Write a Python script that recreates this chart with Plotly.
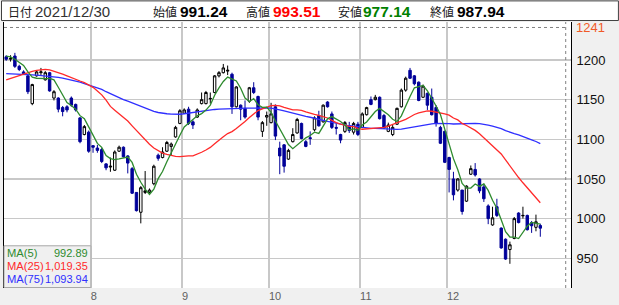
import plotly.graph_objects as go
import pandas as pd

# ---------------- data ----------------
month_labels = ["8", "9", "10", "11", "12"]
month_first_index = [20, 41, 61, 82, 102]

opens = [1204, 1201, 1205, 1192, 1185, 1180, 1145, 1180, 1184, 1175,
         1184, 1152, 1152, 1140, 1141, 1152, 1144, 1127, 1106, 1109,
         1092, 1089, 1087, 1069, 1065, 1061, 1085, 1090, 1079, 1063,
         1033, 1008, 1033, 1033, 1044, 1080, 1077, 1085, 1091, 1103,
         1120, 1133, 1138, 1122, 1128, 1145, 1145, 1151, 1159, 1180,
         1184, 1186, 1182, 1141, 1143, 1139, 1148, 1165, 1154, 1110,
         1128, 1121, 1141, 1089, 1093, 1075, 1097, 1108, 1120, 1097,
         1102, 1112, 1130, 1122, 1147, 1132, 1115, 1106, 1110, 1117,
         1109, 1119, 1115, 1131, 1150, 1150, 1153, 1130, 1110, 1106,
         1119, 1141, 1162, 1187, 1180, 1172, 1153, 1158, 1153, 1140,
         1115, 1110, 1077, 1050, 1036, 1036, 1022, 1056, 1062, 1050,
         1040, 1016, 992, 1015, 988, 974, 961, 975, 1007, 1003.5,
         1004, 995, 989, 991.24]
highs = [1206, 1206, 1209, 1194, 1187, 1181, 1170, 1187, 1190, 1186,
         1185, 1162, 1153, 1142, 1143, 1154, 1145, 1128, 1118, 1111,
         1092, 1093, 1089, 1070, 1077, 1086, 1092, 1091, 1080, 1065,
         1033, 1041, 1060, 1038, 1068, 1082, 1090, 1098, 1096, 1117,
         1138, 1139, 1141, 1124, 1139, 1159, 1161, 1159, 1181, 1186,
         1195, 1193, 1184, 1167, 1144, 1149, 1166, 1172, 1155, 1123,
         1135, 1146, 1144, 1097, 1094, 1088, 1114, 1127, 1121, 1099,
         1110, 1129, 1136, 1144, 1148, 1135, 1120, 1107, 1123, 1122,
         1122, 1122, 1134, 1141, 1154, 1156, 1154, 1132, 1121, 1118,
         1140, 1164, 1179, 1190, 1181, 1173, 1169, 1159, 1164, 1143,
         1117, 1111, 1078, 1059, 1051, 1036, 1042, 1067, 1070, 1051,
         1044, 1018, 1015, 1025, 989, 975, 971, 1002, 1008, 1015,
         1005, 997, 1005, 993.51]
lows = [1199, 1198, 1190, 1186, 1181, 1157, 1143, 1179, 1181, 1174,
        1160, 1149, 1134, 1129, 1134, 1141, 1135, 1095, 1105, 1083,
        1083, 1083, 1070, 1061, 1059, 1060, 1084, 1077, 1057, 1031,
        1009, 994, 1031, 1030, 1042, 1073, 1076, 1084, 1079, 1102,
        1119, 1132, 1118, 1113, 1127, 1144, 1144, 1145, 1158, 1178,
        1183, 1181, 1132, 1140, 1124, 1126, 1146, 1157, 1124, 1103,
        1117, 1120, 1099, 1056, 1058, 1074, 1096, 1107, 1100, 1090,
        1093, 1110, 1116, 1121, 1140, 1113, 1106, 1095, 1108, 1108,
        1106, 1104, 1114, 1130, 1143, 1149, 1125, 1113, 1109, 1104,
        1118, 1140, 1160, 1176, 1168, 1148, 1152, 1137, 1130, 1116,
        1094, 1070, 1033, 1023, 1034, 1005, 1021, 1055, 1053, 1032,
        1021, 993, 991, 1002, 962, 948, 943, 974, 994, 1000,
        985, 982, 984, 977.14]
closes = [1201, 1202, 1192, 1188, 1183, 1160, 1169, 1185, 1185, 1184,
          1161, 1160, 1138, 1135, 1137, 1143, 1137, 1097, 1116, 1085,
          1090, 1086, 1072, 1064, 1066, 1084, 1090, 1078, 1070, 1032,
          1010, 1039, 1035, 1036, 1066, 1076, 1084, 1096, 1094, 1115,
          1136, 1137, 1120, 1118, 1137, 1150, 1159, 1151.5, 1180, 1184,
          1190, 1187, 1141, 1166, 1138, 1128, 1165, 1159, 1128, 1121,
          1130, 1132, 1104, 1079, 1066, 1086, 1106, 1125, 1101, 1091,
          1101, 1127, 1117, 1143, 1141, 1115, 1114, 1099, 1121, 1111,
          1120, 1106, 1132, 1140, 1144, 1153, 1126, 1114, 1118, 1115,
          1139, 1162, 1177, 1177, 1170, 1149, 1167, 1143, 1131, 1120,
          1095, 1071, 1062, 1030, 1050, 1009, 1041, 1063, 1055, 1035,
          1025, 1000, 1001, 1004, 963, 949, 967, 1000, 995, 1004,
          986, 991, 996, 987.94]

# moving-average values before enough closes are on screen
ma5_head = [1205, 1204, 1201, 1197]
ma25_head = [1174.9, 1176.7, 1178.6, 1181.0, 1182.5, 1184.2, 1185.6, 1186.9,
             1187.6, 1188.1, 1187.5, 1186.0, 1184.4, 1182.3, 1180.0, 1177.5,
             1175.0, 1173.5, 1171.5, 1169.0, 1165.5, 1161.0, 1156.0, 1149.5]
ma75_head = [1182.7, 1182.6, 1182.4, 1182.2, 1181.9, 1181.6, 1181.2, 1180.8, 1180.4, 1179.9,
             1179.2, 1178.7, 1178.1, 1177.1, 1176.0, 1174.8, 1173.5, 1172.0, 1170.2, 1168.3,
             1166.6, 1164.9, 1162.9, 1160.0, 1157.3, 1154.5, 1152.2, 1150.1, 1148.1, 1146.0,
             1143.7, 1141.3, 1139.0, 1137.0, 1135.3, 1133.8, 1132.8, 1132.2, 1131.8, 1131.6,
             1131.6, 1132.2, 1133.0, 1134.0, 1134.9, 1135.8, 1136.5, 1137.1, 1137.6, 1138.0,
             1138.4, 1138.6, 1138.9, 1139.0, 1139.1, 1139.2, 1139.4, 1139.5, 1139.6, 1139.6,
             1139.5, 1139.2, 1138.4, 1137.1, 1135.8, 1134.3, 1132.8, 1131.4, 1130.2, 1129.0,
             1127.8, 1126.2, 1125.0, 1123.8]

y_ticks = [950, 1000, 1050, 1100, 1150, 1200]
top_price = 1241
header_date = "2021/12/30"
header_items = [("始値", "991.24", "#000000"), ("高値", "993.51", "#FF0000"),
                ("安値", "977.14", "#008000"), ("終値", "987.94", "#000000")]
legend_names = ["MA(5)", "MA(25)", "MA(75)"]
legend_values = ["992.89", "1,019.35", "1,093.94"]

# ---------------- derived series ----------------
idx = list(range(len(closes)))
cs = pd.Series(closes, dtype=float)
ma5 = cs.rolling(5).mean().tolist()
ma25 = cs.rolling(25).mean().tolist()
ma75 = cs.rolling(75).mean().tolist()
ma5[:len(ma5_head)] = ma5_head
ma25[:len(ma25_head)] = ma25_head
ma75[:len(ma75_head)] = ma75_head

# ---------------- layout geometry ----------------
W, H = 619, 305
L, R, T, B = 3, 48, 22, 12
PW, PH = W - L - R, H - T - B


def px(x):
    return (x - L) / PW


def py(y):
    return (H - B - y) / PH


GREEN, RED, BLUE, NAVY = "#2E8B2E", "#FF2A2A", "#2F2FFF", "#000099"
ma_colors = [GREEN, RED, BLUE]

fig = go.Figure()
fig.add_trace(go.Candlestick(
    x=idx, open=opens, high=highs, low=lows, close=closes,
    increasing=dict(line=dict(color="#000000", width=1), fillcolor="#FFFFFF"),
    decreasing=dict(line=dict(color=NAVY, width=1), fillcolor=NAVY),
    whiskerwidth=0, showlegend=False, hoverinfo="skip"))
for series, col in zip([ma75, ma25, ma5], [BLUE, RED, GREEN]):
    fig.add_trace(go.Scatter(x=idx, y=series, mode="lines",
                             line=dict(color=col, width=1.3),
                             showlegend=False, hoverinfo="skip"))

month_grid = [i - 0.5 for i in month_first_index]
fig.update_xaxes(range=[-0.506, 130.07], tickvals=month_grid, ticktext=month_labels,
                 showgrid=True, gridcolor="#C8C8C8", gridwidth=1.5, zeroline=False,
                 ticks="", ticklabelposition="outside right",
                 tickfont=dict(family="Liberation Sans", size=11, color="#606060"),
                 rangeslider=dict(visible=False), showline=False, fixedrange=True)
fig.update_yaxes(range=[912.5, 1247.9], tickvals=y_ticks, side="right",
                 showgrid=True, gridcolor="#C8C8C8", gridwidth=1.5, zeroline=False,
                 ticks="", showline=True, linecolor="#000000", linewidth=1, mirror=True,
                 tickfont=dict(family="Liberation Sans", size=13, color="#101010"),
                 ticklabelstandoff=2, fixedrange=True)

shapes = [
    # header box
    dict(type="rect", xref="paper", yref="paper", x0=px(0.5), x1=px(618.5),
         y0=py(20.5), y1=py(0.5), fillcolor="#FFFFFF", line=dict(color="#404040", width=1),
         layer="below"),
    # dotted top-price line and dotted right boundary
    dict(type="line", xref="paper", yref="y", x0=0, x1=px(566), y0=top_price, y1=top_price,
         line=dict(color="#808080", width=1, dash="dot")),
    dict(type="line", xref="paper", yref="paper", x0=px(565.7), x1=px(565.7), y0=0, y1=1,
         line=dict(color="#808080", width=1, dash="dot")),
    # legend box
    dict(type="rect", xref="paper", yref="paper", x0=px(3), x1=px(90), y0=py(292.5), y1=py(250),
         fillcolor="#F0F0F0", line=dict(color="#A8A8A8", width=1)),
]

ann = []
hfont = "Noto Sans CJK JP"
ann.append(dict(text="日付", x=px(5), y=py(11), xref="paper", yref="paper", xanchor="left",
                yanchor="middle", showarrow=False, font=dict(family=hfont, size=12, color="#202020")))
ann.append(dict(text=header_date, x=px(32), y=py(11), xref="paper", yref="paper", xanchor="left",
                yanchor="middle", showarrow=False, font=dict(family="Liberation Sans", size=15, color="#333333")))
label_x = [150, 243, 336, 428]
value_x = [177, 270, 361, 455]
for (lab, val, col), lx, vx in zip(header_items, label_x, value_x):
    ann.append(dict(text=lab, x=px(lx), y=py(11), xref="paper", yref="paper", xanchor="left",
                    yanchor="middle", showarrow=False, font=dict(family=hfont, size=12, color="#202020")))
    ann.append(dict(text="<b>" + val + "</b>", x=px(vx), y=py(11), xref="paper", yref="paper",
                    xanchor="left", yanchor="middle", showarrow=False,
                    font=dict(family="Liberation Sans", size=15.5, color=col)))

ann.append(dict(text=str(top_price), x=px(574), y=top_price, xref="paper", yref="y",
                xanchor="left", yanchor="middle", showarrow=False,
                font=dict(family="Liberation Sans", size=13, color="#F05A28")))

for k, (nm, val, col) in enumerate(zip(legend_names, legend_values, ma_colors)):
    yy = py(257 + 13.5 * k)
    ann.append(dict(text=nm, x=px(4), y=yy, xref="paper", yref="paper", xanchor="left",
                    yanchor="middle", showarrow=False,
                    font=dict(family="Liberation Sans", size=11.2, color=col)))
    ann.append(dict(text=val, x=px(89), y=yy, xref="paper", yref="paper", xanchor="right",
                    yanchor="middle", showarrow=False,
                    font=dict(family="Liberation Sans", size=11, color=col)))

fig.update_layout(width=W, height=H, margin=dict(l=L, r=R, t=T, b=B, pad=0),
                  paper_bgcolor="#F0F0F0", plot_bgcolor="#FFFFFF",
                  shapes=shapes, annotations=ann, showlegend=False, boxgap=0.2,
                  hovermode=False)

fig.write_html("out.html", include_plotlyjs=True, config={"displayModeBar": False, "staticPlot": True})
